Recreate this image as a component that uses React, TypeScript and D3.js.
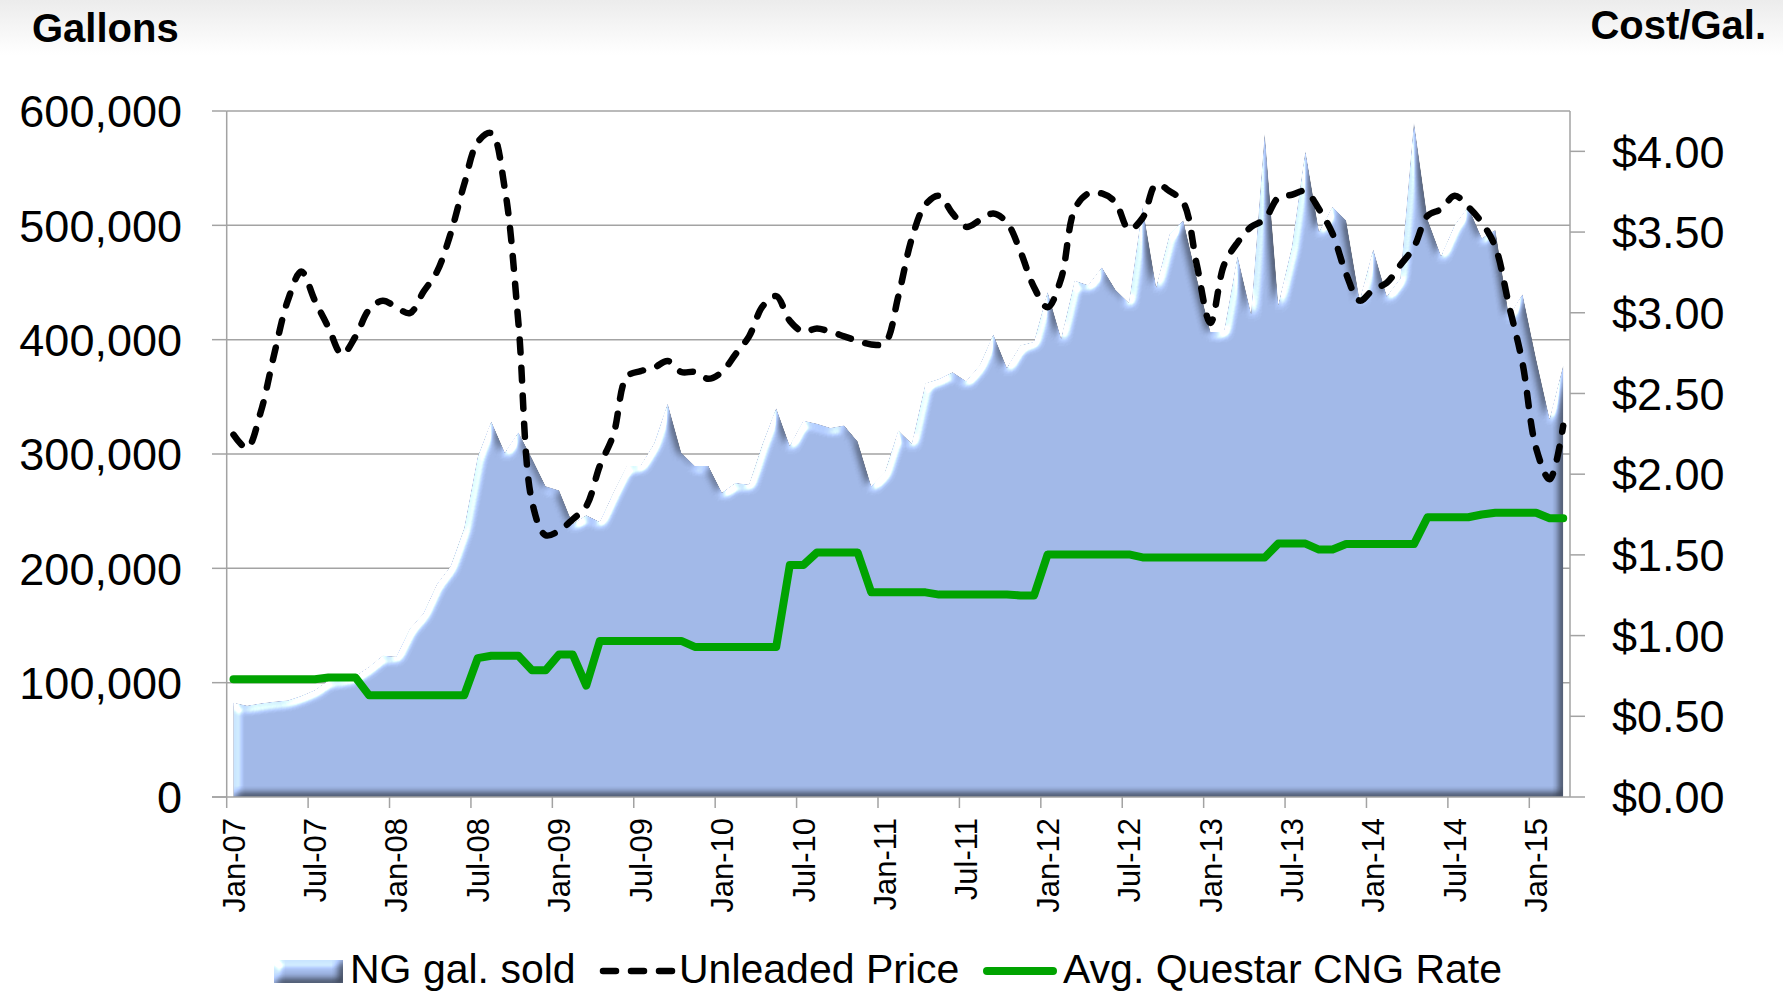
import React from "react";
import * as d3 from "d3";

// monthly categories Jan-07 .. Mar-15
const months = d3.timeMonth.range(new Date(2007, 0, 1), new Date(2015, 3, 1));

// NG gallons sold per month
const gallonsSold = [
  82500, 79800, 81700, 83300, 84500, 88300, 93400, 102000, 102700, 105900, 113700, 123500,
  122700, 147000, 160600, 186000, 201600, 234800, 297400, 328500, 301000, 318700, 296000, 271800,
  268000, 238800, 246500, 240600, 266000, 289500, 289500, 309000, 344000, 301000, 289500, 289500,
  266000, 274600, 273000, 309000, 340000, 307000, 329000, 326500, 322700, 325000, 311000, 271800,
  283600, 320600, 309000, 361700, 365600, 371500, 363600, 377300, 404600, 375300, 394900, 398000,
  441700, 400800, 451500, 447600, 463200, 443700, 432000, 516000, 445600, 492500, 504200, 453400,
  406600, 406600, 473000, 422200, 580300, 430000, 480800, 564800, 494400, 516000, 504200, 434000,
  478800, 437800, 453400, 590000, 505000, 473000, 500000, 516000, 488600, 496000, 420300, 439800,
  383000, 330400, 377300,
];

// unleaded price, $/gal
const unleadedPrice = [
  2.245, 2.162, 2.383, 2.743, 3.075, 3.255, 3.075, 2.909, 2.743, 2.854, 3.02, 3.075,
  3.034, 2.998, 3.13, 3.255, 3.49, 3.795, 4.057, 4.113, 3.767, 2.937, 1.83, 1.622,
  1.65, 1.72, 1.802, 2.052, 2.245, 2.605, 2.638, 2.66, 2.701, 2.633, 2.633, 2.591,
  2.633, 2.743, 2.854, 3.04, 3.103, 2.95, 2.882, 2.903, 2.882, 2.854, 2.826, 2.804,
  2.812, 3.103, 3.462, 3.67, 3.725, 3.615, 3.532, 3.573, 3.615, 3.559, 3.379, 3.158,
  3.034, 3.213, 3.642, 3.739, 3.739, 3.684, 3.517, 3.587, 3.795, 3.753, 3.684, 3.296,
  2.937, 3.296, 3.435, 3.532, 3.579, 3.712, 3.731, 3.753, 3.642, 3.49, 3.241, 3.075,
  3.144, 3.186, 3.296, 3.407, 3.601, 3.642, 3.725, 3.656, 3.559, 3.407, 3.047, 2.688,
  2.162, 1.968, 2.3,
];

// Avg. Questar CNG rate, $/gal
const cngRate = [
  0.73, 0.73, 0.73, 0.73, 0.73, 0.73, 0.73, 0.74, 0.74, 0.74, 0.63, 0.63,
  0.63, 0.63, 0.63, 0.63, 0.63, 0.63, 0.86, 0.875, 0.875, 0.875, 0.785, 0.785,
  0.883, 0.883, 0.69, 0.967, 0.967, 0.967, 0.967, 0.967, 0.967, 0.967, 0.93, 0.93,
  0.93, 0.93, 0.93, 0.93, 0.93, 1.437, 1.437, 1.515, 1.515, 1.515, 1.515, 1.268,
  1.268, 1.268, 1.268, 1.268, 1.254, 1.254, 1.254, 1.254, 1.254, 1.254, 1.249, 1.249,
  1.503, 1.503, 1.503, 1.503, 1.503, 1.503, 1.503, 1.484, 1.484, 1.484, 1.484, 1.484,
  1.484, 1.484, 1.484, 1.484, 1.484, 1.57, 1.57, 1.57, 1.533, 1.533, 1.567, 1.567,
  1.567, 1.567, 1.567, 1.567, 1.733, 1.733, 1.733, 1.733, 1.75, 1.761, 1.761, 1.761,
  1.761, 1.727, 1.727,
];

const gallonTicks = [0, 100000, 200000, 300000, 400000, 500000, 600000];
const costTicks = [0, 0.5, 1, 1.5, 2, 2.5, 3, 3.5, 4];
const dateTickLabels = [
  "Jan-07", "Jul-07", "Jan-08", "Jul-08", "Jan-09", "Jul-09", "Jan-10", "Jul-10", "Jan-11",
  "Jul-11", "Jan-12", "Jul-12", "Jan-13", "Jul-13", "Jan-14", "Jul-14", "Jan-15",
];
const seriesNames = ["NG gal. sold", "Unleaded Price", "Avg. Questar CNG Rate"];

const FONT = "Arial, 'Liberation Sans', sans-serif";
const GRID = "#a3a3a3";

export default function App() {
  const W = 1783, H = 993;
  const left = 226.7, right = 1570, top = 111, bottom = 797;

  const fmt = d3.timeFormat("%b-%y");
  const cats = months.map(fmt);
  const x = d3.scaleBand<string>().domain(cats).range([left, right]);
  const bw = x.bandwidth();
  const cx = (i: number) => (x(cats[i]) as number) + bw / 2;

  const yL = d3.scaleLinear().domain([0, 600000]).range([bottom, top]);
  const yR = d3.scaleLinear().domain([0, 4.25]).range([bottom, top]);

  const area = d3.area<number>()
    .x((d, i) => cx(i))
    .y0(yL(0))
    .y1(d => yL(d));
  const priceLine = d3.line<number>()
    .x((d, i) => cx(i))
    .y(d => yR(d))
    .curve(d3.curveCatmullRom);
  const rateLine = d3.line<number>()
    .x((d, i) => cx(i))
    .y(d => yR(d));

  const fmtGal = d3.format(",");
  const fmtCost = d3.format("$.2f");

  return (
    <svg width={W} height={H} style={{ position: "absolute", left: 0, top: 0, display: "block" }}>
      <defs>
        <linearGradient id="topfade" x1="0" y1="0" x2="0" y2="1">
          <stop offset="0" stopColor="#ececec" />
          <stop offset="1" stopColor="#ffffff" />
        </linearGradient>
        {/* bevel, light from upper left */}
        <filter id="bevel" filterUnits="userSpaceOnUse" x={0} y={0} width={W} height={H}
          colorInterpolationFilters="sRGB">
          <feGaussianBlur in="SourceAlpha" stdDeviation={4} result="blur" />
          <feDiffuseLighting in="blur" surfaceScale={4.5} diffuseConstant={0.87} lightingColor="#ffffff" result="diff">
            <feDistantLight azimuth={225} elevation={35} />
          </feDiffuseLighting>
          <feComposite in="SourceGraphic" in2="diff" operator="arithmetic" k1={1.1} k2={0.45} k3={0} k4={0} result="lit" />
          <feSpecularLighting in="blur" surfaceScale={4.5} specularConstant={0.7} specularExponent={30}
            lightingColor="#ffffff" result="spec">
            <feDistantLight azimuth={225} elevation={30} />
          </feSpecularLighting>
          <feComposite in="spec" in2="SourceAlpha" operator="in" result="specIn" />
          <feComposite in="lit" in2="specIn" operator="arithmetic" k1={0} k2={1} k3={0.8} k4={0} result="sum" />
          <feComposite in="sum" in2="SourceAlpha" operator="in" />
        </filter>
      </defs>

      <rect x={0} y={0} width={W} height={H} fill="#fff" />
      <rect x={0} y={0} width={W} height={55} fill="url(#topfade)" />

      {/* titles */}
      <text x={32} y={42} fontFamily={FONT} fontWeight="bold" fontSize={40} fill="#000">Gallons</text>
      <text x={1766} y={39} textAnchor="end" fontFamily={FONT} fontWeight="bold" fontSize={40} fill="#000">Cost/Gal.</text>

      {/* gridlines + left axis */}
      {gallonTicks.map(t => (
        <g key={"g" + t}>
          {t > 0 && <line x1={left} x2={right} y1={yL(t)} y2={yL(t)} stroke={GRID} strokeWidth={1.5} />}
          <line x1={212} x2={left} y1={yL(t)} y2={yL(t)} stroke={GRID} strokeWidth={1.5} />
          <text x={182} y={yL(t)} dy="0.36em" textAnchor="end" fontFamily={FONT} fontSize={45} fill="#000">
            {fmtGal(t)}
          </text>
        </g>
      ))}

      {/* area */}
      <path d={area(gallonsSold) as string} fill="#a0b7e6" filter="url(#bevel)" />

      {/* axis lines */}
      <line x1={left} x2={left} y1={top} y2={bottom} stroke={GRID} strokeWidth={1.5} />
      <line x1={right} x2={right} y1={top} y2={bottom} stroke={GRID} strokeWidth={1.5} />
      <line x1={212} x2={right} y1={bottom} y2={bottom} stroke={GRID} strokeWidth={1.5} />

      {/* right axis */}
      {costTicks.map(t => (
        <g key={"c" + t}>
          <line x1={right} x2={1585} y1={yR(t)} y2={yR(t)} stroke={GRID} strokeWidth={1.5} />
          <text x={1612} y={yR(t)} dy="0.36em" fontFamily={FONT} fontSize={45} fill="#000">
            {fmtCost(t)}
          </text>
        </g>
      ))}

      {/* date axis */}
      {dateTickLabels.map(lbl => {
        const i = cats.indexOf(lbl);
        const x0 = x(lbl) as number;
        return (
          <g key={lbl}>
            <line x1={x0} x2={x0} y1={bottom} y2={808} stroke={GRID} strokeWidth={1.5} />
            <text transform={`translate(${cx(i)},818) rotate(-90)`} dy="0.36em" textAnchor="end"
              fontFamily={FONT} fontSize={31} fill="#000">{lbl}</text>
          </g>
        );
      })}

      {/* lines */}
      <path d={rateLine(cngRate) as string} fill="none" stroke="#00a300" strokeWidth={8}
        strokeLinejoin="round" strokeLinecap="round" />
      <path d={priceLine(unleadedPrice) as string} fill="none" stroke="#000" strokeWidth={6.5}
        strokeDasharray="13 15" strokeLinecap="round" />

      {/* legend */}
      <rect x={274} y={960} width={69} height={23} fill="#a0b7e6" filter="url(#bevel)" />
      <text x={350} y={983} fontFamily={FONT} fontSize={41} fill="#000">{seriesNames[0]}</text>
      <line x1={603} x2={673} y1={971} y2={971} stroke="#000" strokeWidth={6.5} strokeDasharray="13 15"
        strokeLinecap="round" />
      <text x={679} y={983} fontFamily={FONT} fontSize={41} fill="#000">{seriesNames[1]}</text>
      <line x1={987} x2={1053} y1={971} y2={971} stroke="#00a300" strokeWidth={8} strokeLinecap="round" />
      <text x={1063} y={983} fontFamily={FONT} fontSize={41} fill="#000">{seriesNames[2]}</text>
    </svg>
  );
}
